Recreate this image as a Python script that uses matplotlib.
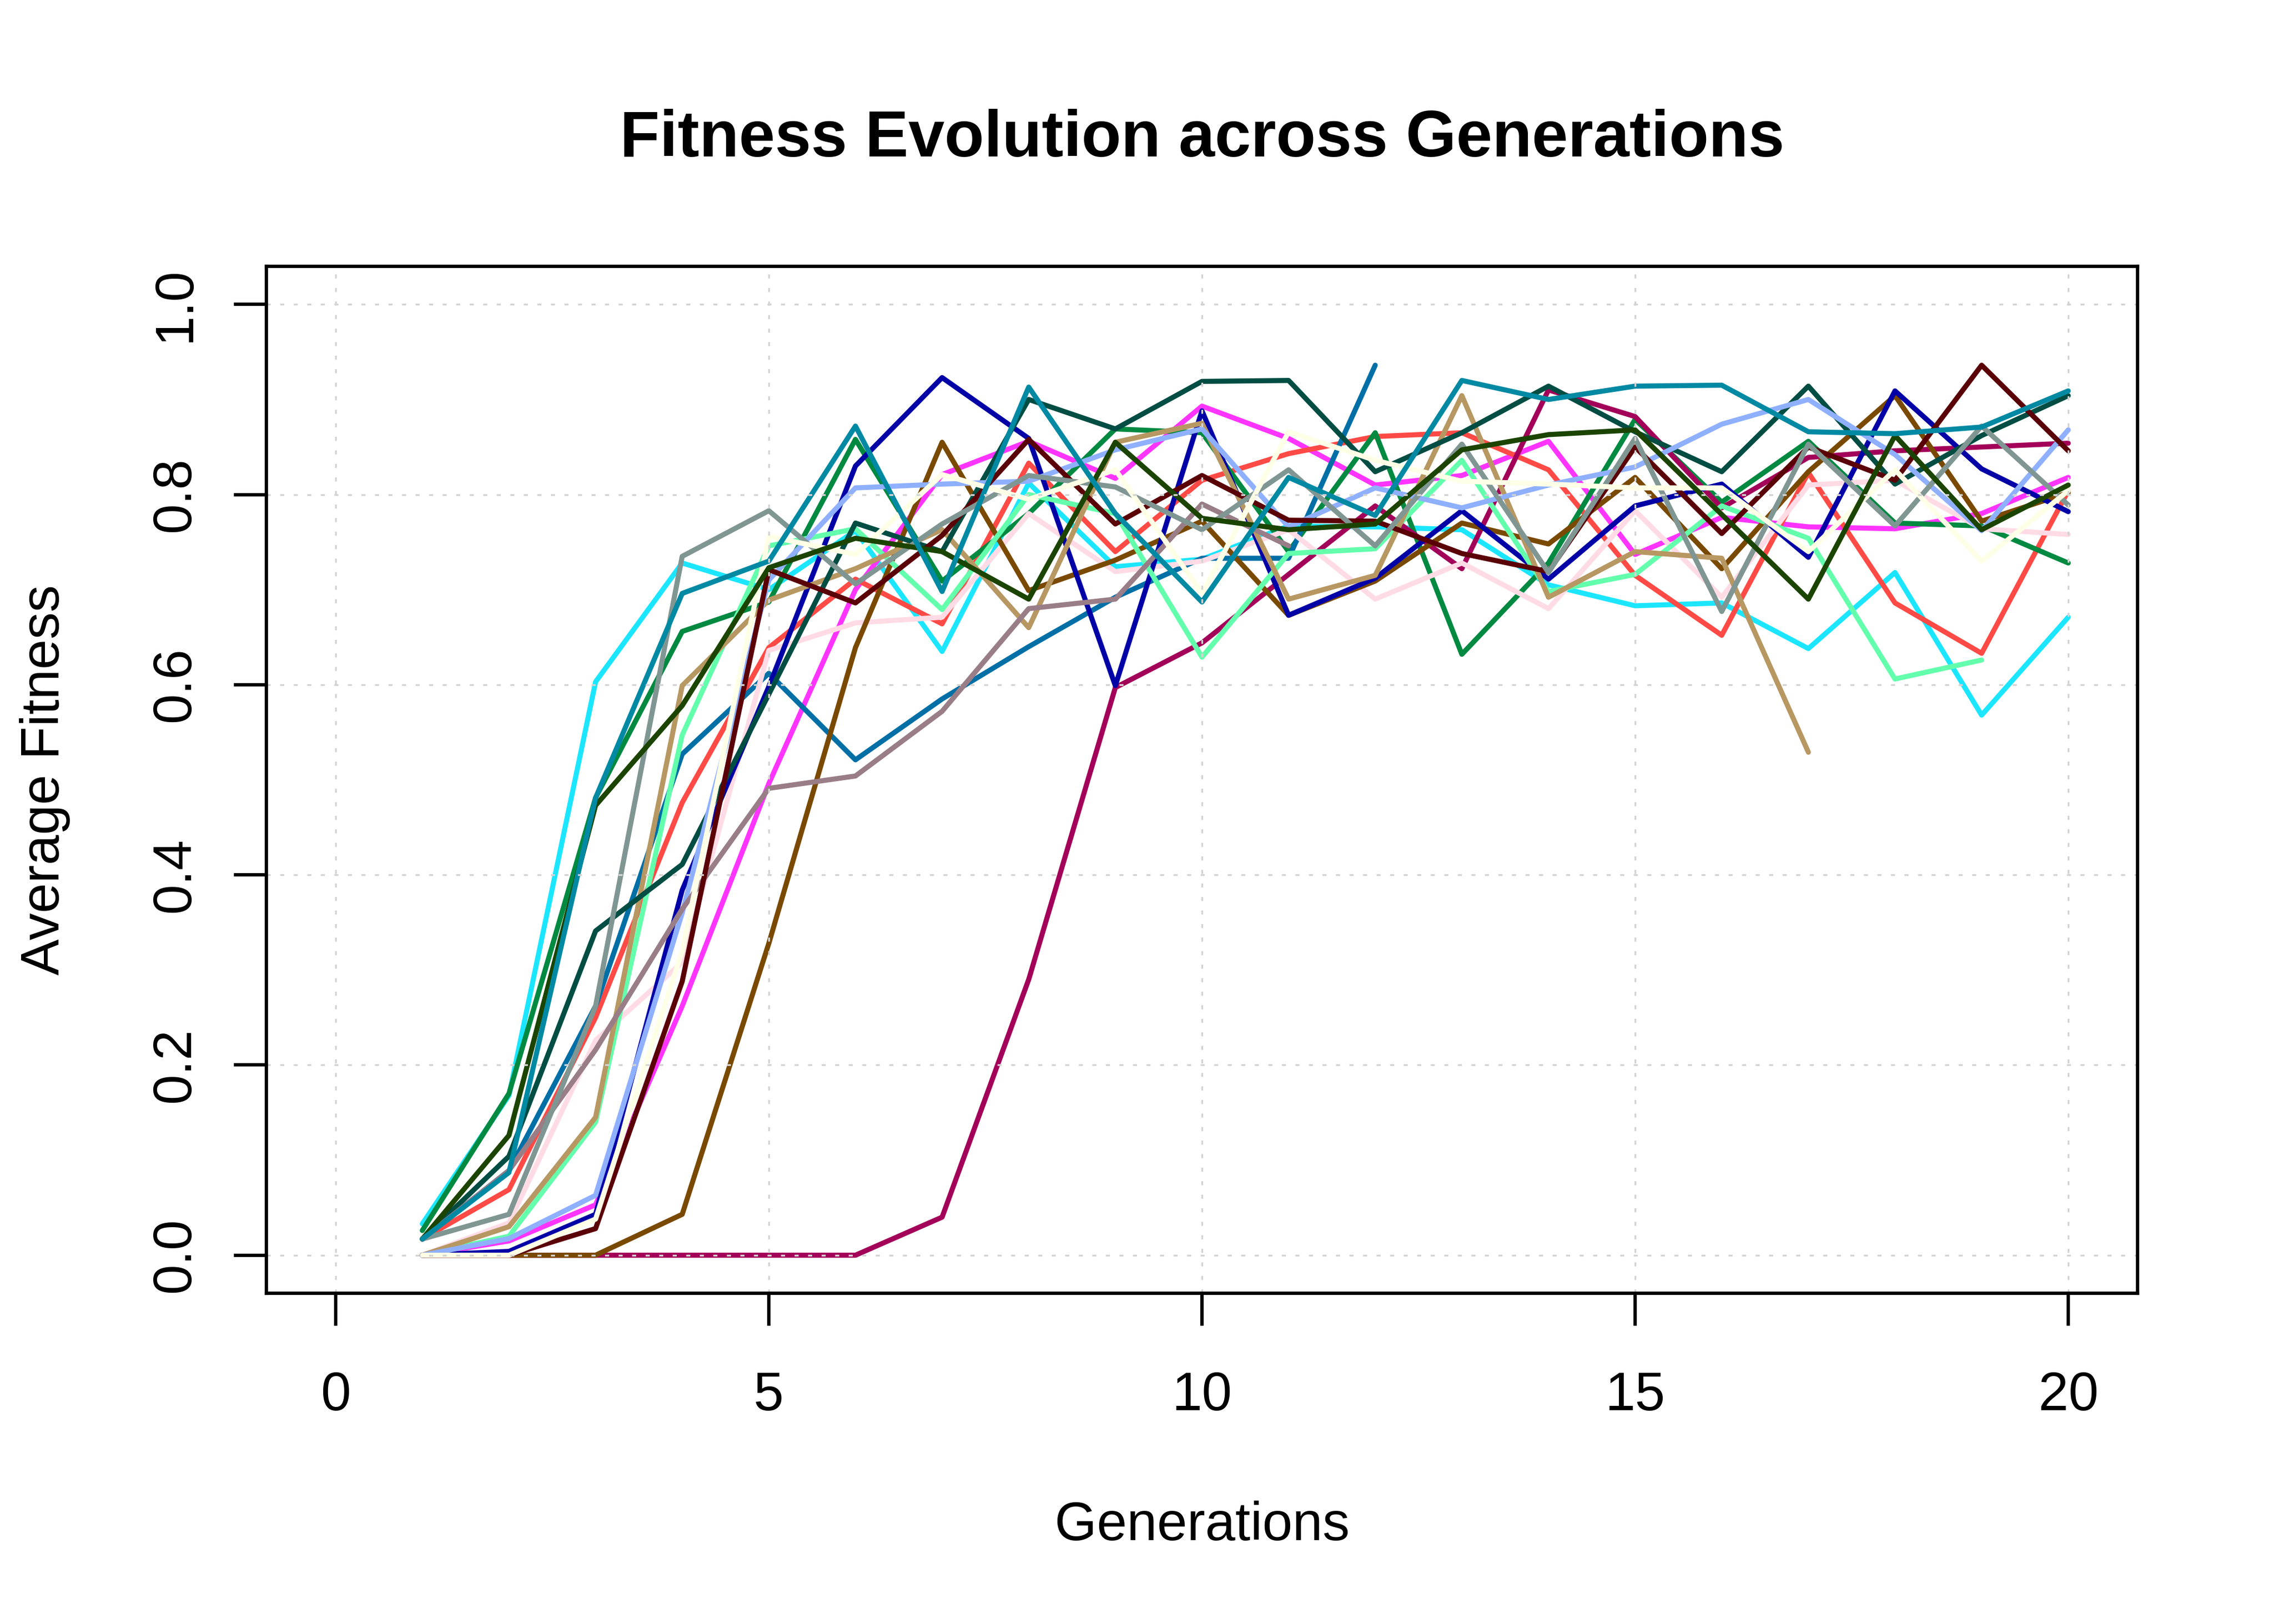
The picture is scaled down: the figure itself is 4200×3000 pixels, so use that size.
import numpy as np
import matplotlib
matplotlib.use("Agg")
import matplotlib.pyplot as plt

plt.rcParams['font.family'] = ['Liberation Sans', 'DejaVu Sans']
plt.rcParams['lines.scale_dashes'] = False

nan = np.nan
generations = list(range(1, 21))

cyan = [0.033, 0.168, 0.603, 0.728, 0.700, 0.762, 0.635, 0.812, 0.724, 0.732,
        0.767, 0.766, 0.763, 0.705, 0.683, 0.686, 0.638, 0.718, 0.568, 0.671]
magenta = [0.0, 0.015, 0.053, 0.262, 0.496, 0.700, 0.821, 0.856, 0.817, 0.893,
           0.859, 0.810, 0.820, 0.856, 0.737, 0.776, 0.766, 0.764, 0.780, 0.818]
red = [0.017, 0.069, 0.25, 0.476, 0.639, 0.711, 0.664, 0.833, 0.740, 0.815,
       0.843, 0.861, 0.865, 0.826, 0.715, 0.652, 0.823, 0.686, 0.633, 0.804]
green = [0.026, 0.170, 0.481, 0.656, 0.687, 0.858, 0.709, 0.780, 0.869, 0.865,
         0.740, 0.865, 0.632, 0.728, 0.879, 0.792, 0.856, 0.770, 0.767, 0.728]
blue = [0.017, 0.089, 0.262, 0.527, 0.612, 0.521, 0.585, 0.640, 0.692, 0.733,
        0.733, 0.936, nan, nan, nan, nan, nan, nan, nan, nan]
maroon = [0.0, 0.0, 0.0, 0.0, 0.0, 0.0, 0.040, 0.290, 0.597, 0.644,
          0.716, 0.788, 0.722, 0.910, 0.882, 0.786, 0.839, 0.846, 0.850, 0.854]
pink = [0.0, 0.034, 0.226, 0.308, 0.636, 0.665, 0.671, 0.780, 0.719, 0.730,
        0.763, 0.690, 0.728, 0.680, 0.783, 0.692, 0.810, 0.815, 0.764, 0.758]
brown = [0.0, 0.0, 0.0, 0.043, 0.328, 0.639, 0.855, 0.699, 0.731, 0.772,
         0.673, 0.709, 0.770, 0.748, 0.818, 0.722, 0.824, 0.904, 0.772, 0.802]
dark_blue = [0.0, 0.004, 0.043, 0.384, 0.598, 0.830, 0.923, 0.859, 0.599, 0.888,
             0.673, 0.712, 0.783, 0.711, 0.788, 0.811, 0.734, 0.909, 0.827, 0.782]
mint = [0.0, 0.020, 0.140, 0.547, 0.746, 0.764, 0.679, 0.800, 0.780, 0.629,
        0.738, 0.743, 0.836, 0.698, 0.716, 0.788, 0.754, 0.606, 0.626, nan]
tan = [0.0, 0.030, 0.145, 0.599, 0.689, 0.722, 0.763, 0.660, 0.855, 0.875,
       0.690, 0.715, 0.904, 0.692, 0.740, 0.733, 0.529, nan, nan, nan]
dark_teal = [0.017, 0.104, 0.341, 0.411, 0.590, 0.770, 0.740, 0.900, 0.869, 0.919,
             0.920, 0.824, 0.865, 0.914, 0.866, 0.824, 0.914, 0.811, 0.862, 0.904]
light_blue = [0.0, 0.0175, 0.063, 0.360, 0.710, 0.807, 0.811, 0.814, 0.847, 0.869,
              0.766, 0.807, 0.786, 0.810, 0.829, 0.874, 0.900, 0.842, 0.762, 0.868]
mauve = [0.017, 0.089, 0.216, 0.364, 0.491, 0.504, 0.572, 0.680, 0.690, 0.790,
         0.746, nan, nan, nan, nan, nan, nan, nan, nan, nan]
dark_red = [0.0, 0.0, 0.028, 0.288, 0.721, 0.686, 0.757, 0.858, 0.769, 0.820,
            0.773, 0.772, 0.738, 0.719, 0.850, 0.759, 0.850, 0.815, 0.936, 0.846]
gray = [0.017, 0.043, 0.262, 0.735, 0.783, 0.706, 0.769, 0.820, 0.808, 0.763,
        0.826, 0.746, 0.853, 0.718, 0.859, 0.677, 0.853, 0.767, 0.872, 0.789]
cream = [0.0, 0.0, 0.038, 0.320, 0.756, 0.737, 0.821, 0.795, 0.826, 0.696,
         0.866, 0.836, 0.814, 0.811, 0.807, 0.807, 0.740, 0.826, 0.730, 0.804]
dark_green = [0.017, 0.126, 0.473, 0.578, 0.723, 0.754, 0.740, 0.690, 0.855, 0.775,
              0.763, 0.769, 0.847, 0.863, 0.868, 0.779, 0.690, 0.862, 0.763, 0.810]
teal = [0.017, 0.087, 0.481, 0.696, 0.730, 0.872, 0.698, 0.913, 0.780, 0.687,
        0.818, 0.778, 0.920, 0.900, 0.914, 0.915, 0.866, 0.864, 0.871, 0.909]

series = [cyan, magenta, red, green, blue, maroon, pink, brown, dark_blue, mint,
          tan, dark_teal, light_blue, mauve, dark_red, gray, cream, dark_green, teal]
colors = ["#1CE6FF", "#FF34FF", "#FF4A46", "#008941", "#006FA6", "#A30059",
          "#FFDBE5", "#7A4900", "#0000A6", "#63FFAC", "#B79762", "#004D43",
          "#8FB0FF", "#997D87", "#5A0007", "#809693", "#FEFFE6", "#1B4400",
          "#0089A3"]

x_ticks = [0, 5, 10, 15, 20]
y_ticks = [0.0, 0.2, 0.4, 0.6, 0.8, 1.0]
y_tick_labels = ["0.0", "0.2", "0.4", "0.6", "0.8", "1.0"]

W, H = 4200, 3000
fig = plt.figure(figsize=(7, 5), dpi=600)
L, R, T, B = 492, 3948, 492, 2389
ax = fig.add_axes([L / W, 1 - B / H, (R - L) / W, (B - T) / H])

for vals, col in zip(series, colors):
    ax.plot(generations, vals, color=col, linewidth=1.125,
            solid_capstyle='round', solid_joinstyle='round', zorder=2)

ax.set_xlim(-0.8, 20.8)
ax.set_ylim(-0.04, 1.04)
ax.set_xticks(x_ticks)
ax.set_xticklabels([str(t) for t in x_ticks])
ax.set_yticks(y_ticks)
ax.set_yticklabels(y_tick_labels, rotation=90, va='center', ha='right')

ax.set_axisbelow(False)
ax.grid(True, color='#D3D3D3', linewidth=0.4, linestyle=(0, (0.9, 2.1)), zorder=3)

for sp in ax.spines.values():
    sp.set_linewidth(0.75)
    sp.set_zorder(4)

ax.tick_params(axis='both', direction='out', length=7.2, width=0.75,
               labelsize=12, colors='black')
ax.tick_params(axis='x', pad=10)
ax.tick_params(axis='y', pad=7.3)

cx = (L + R) / 2 / W
fig.text(cx, 1 - 289 / H, "Fitness Evolution across Generations",
         ha='center', va='baseline', fontsize=14.4, fontweight='bold')
fig.text(cx, 1 - 2845 / H, "Generations", ha='center', va='baseline', fontsize=12)
fig.text(130 / W, 1 - (T + B) / 2 / H, "Average Fitness", rotation=90,
         ha='right', va='center', fontsize=12)

fig.savefig("out.png", dpi=600, facecolor='white')
